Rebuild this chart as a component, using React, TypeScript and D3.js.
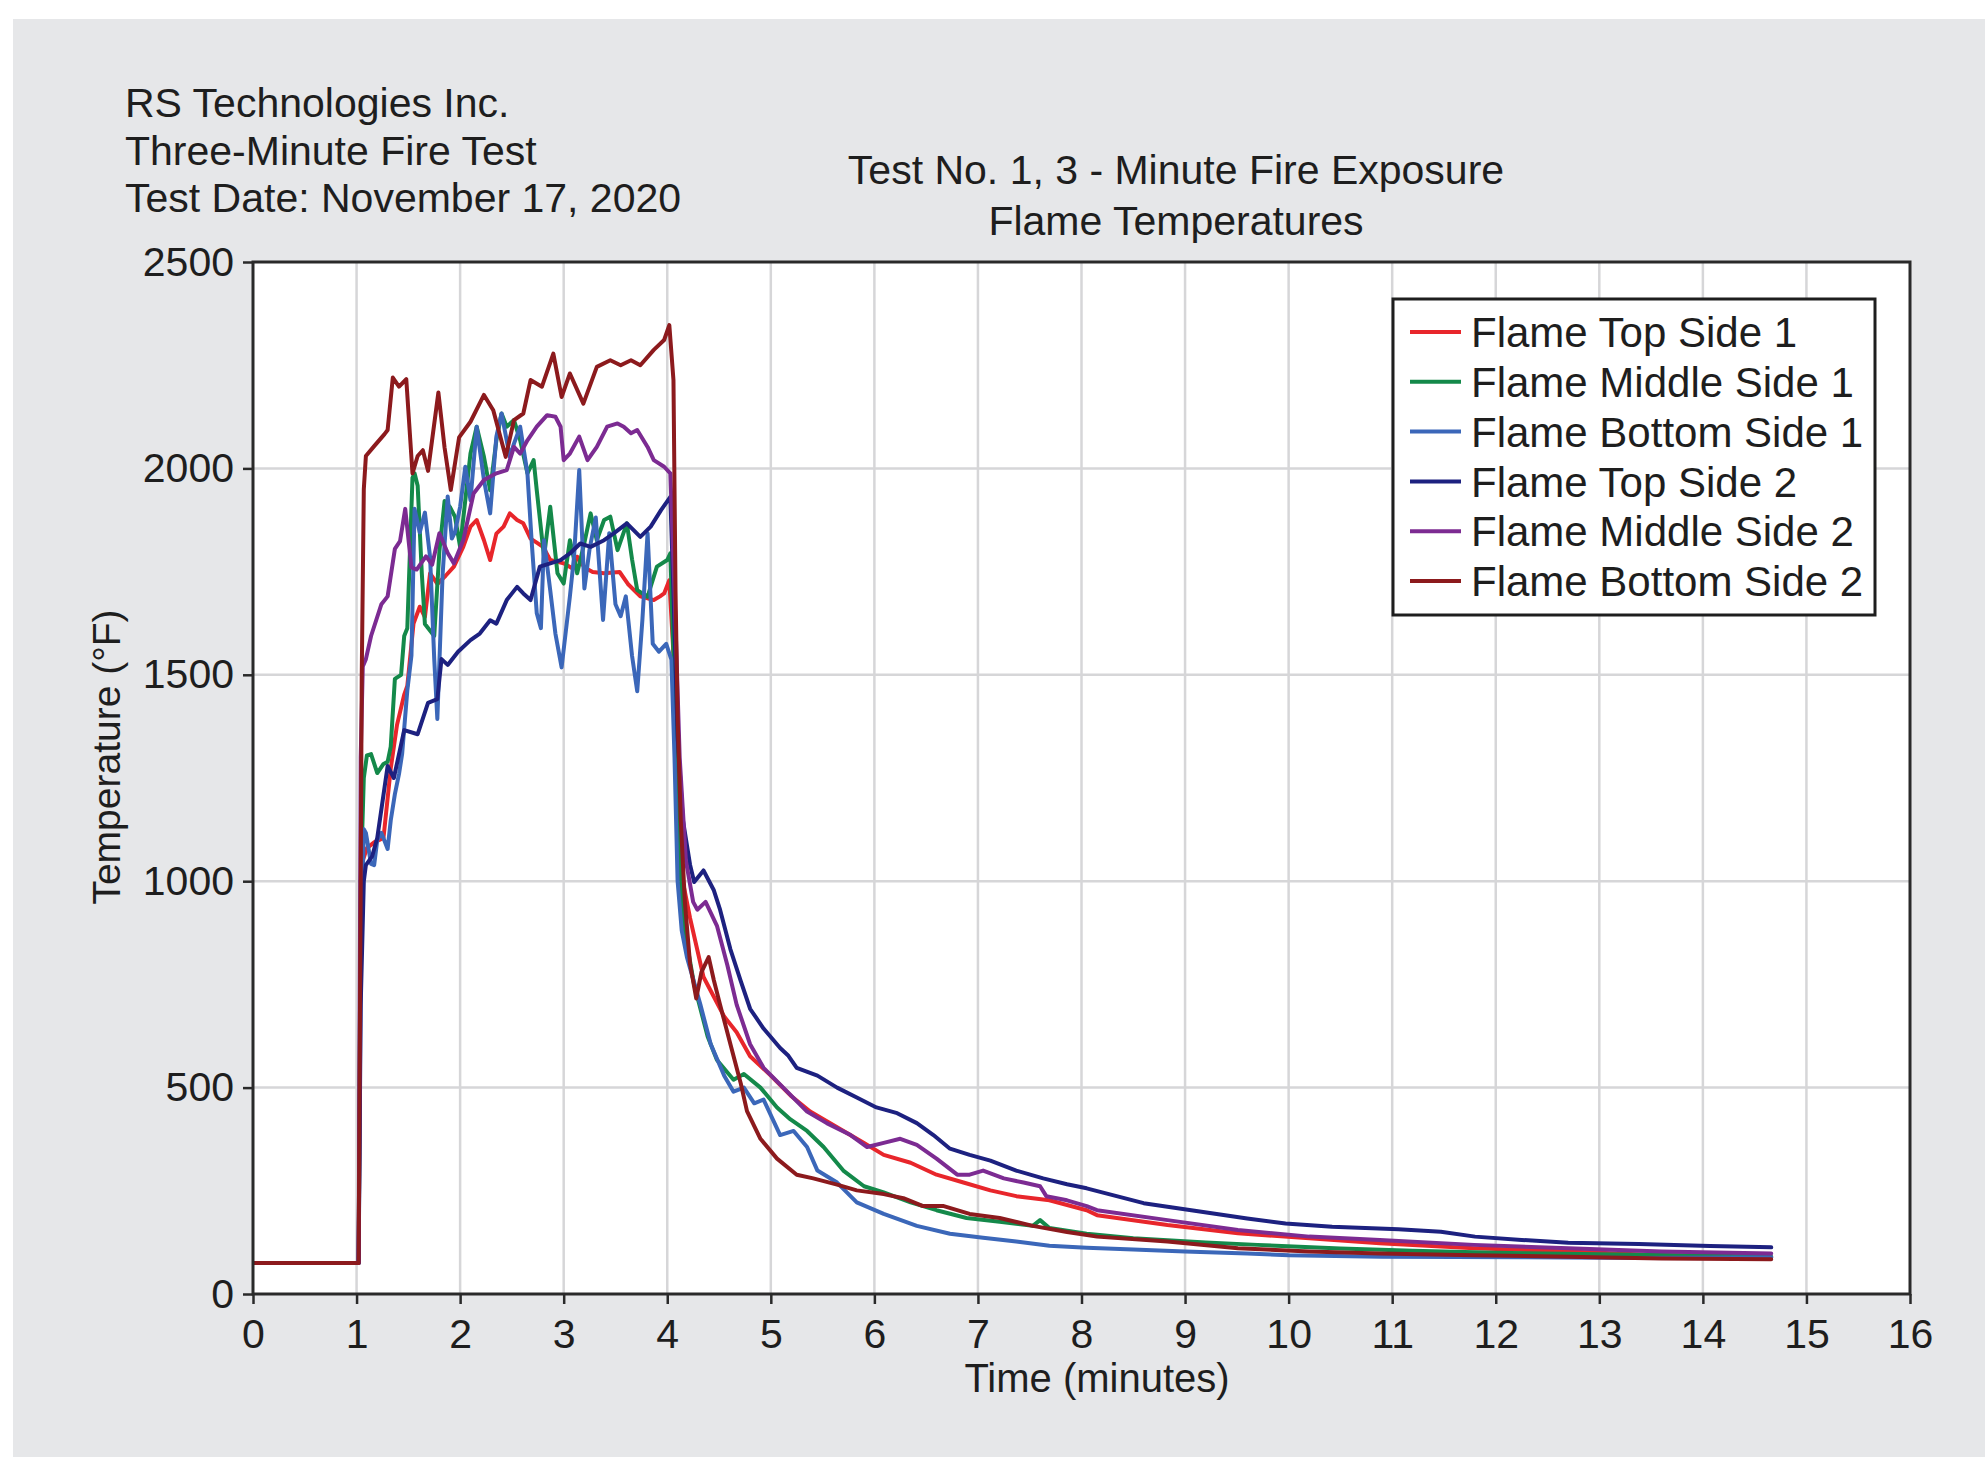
import React, { useEffect, useRef } from 'react';
import * as d3 from 'd3';

// axis ticks
const minuteTicks = [0, 1, 2, 3, 4, 5, 6, 7, 8, 9, 10, 11, 12, 13, 14, 15, 16];
const tempTicks = [0, 500, 1000, 1500, 2000, 2500];

const seriesNames = [
  'Flame Top Side 1',
  'Flame Middle Side 1',
  'Flame Bottom Side 1',
  'Flame Top Side 2',
  'Flame Middle Side 2',
  'Flame Bottom Side 2'
];
const seriesColors = ['#e8262b', '#14894a', '#3b67b9', '#1d2180', '#7c2b92', '#8c1a1d'];

// [minutes, °F]
const topSide1 = [
  [0, 75], [1.02, 75], [1.04, 900], [1.06, 1050], [1.1, 1080], [1.17, 1094], [1.26, 1105], [1.33, 1273],
  [1.39, 1378], [1.46, 1452], [1.49, 1473], [1.55, 1624], [1.61, 1665], [1.66, 1640], [1.71, 1746],
  [1.78, 1720], [1.86, 1740], [1.94, 1762], [2.03, 1810], [2.1, 1859], [2.16, 1875], [2.23, 1826],
  [2.29, 1778], [2.35, 1842], [2.42, 1859], [2.48, 1891], [2.55, 1875], [2.61, 1867], [2.68, 1830],
  [2.74, 1820], [2.8, 1810], [2.87, 1778], [3.0, 1770], [3.09, 1757], [3.13, 1786], [3.2, 1760],
  [3.28, 1749], [3.39, 1746], [3.54, 1749], [3.62, 1720], [3.74, 1690], [3.87, 1681], [3.93, 1690],
  [3.97, 1697], [4.02, 1729], [4.06, 1550], [4.1, 1250], [4.15, 1000], [4.22, 911], [4.35, 768],
  [4.45, 720], [4.55, 672], [4.67, 634], [4.8, 576], [5.0, 529], [5.19, 481], [5.38, 442], [5.64, 404],
  [5.9, 366], [6.09, 337], [6.35, 318], [6.6, 289], [6.86, 270], [7.12, 251], [7.37, 237], [7.69, 227],
  [8.05, 203], [8.15, 191], [8.83, 167], [9.51, 147], [10.2, 135], [10.88, 123], [11.79, 111],
  [12.7, 103], [13.6, 94], [14.66, 89]
];

const middleSide1 = [
  [0, 75], [1.02, 75], [1.04, 1000], [1.07, 1250], [1.1, 1305], [1.14, 1308], [1.2, 1262], [1.26, 1284],
  [1.3, 1289], [1.33, 1326], [1.37, 1490], [1.43, 1500], [1.46, 1594], [1.49, 1613], [1.54, 1977],
  [1.56, 1988], [1.59, 1958], [1.63, 1746], [1.66, 1623], [1.75, 1594], [1.8, 1800], [1.85, 1921],
  [1.9, 1907], [1.95, 1883], [2.0, 1810], [2.1, 2036], [2.16, 2101], [2.23, 2028], [2.29, 1947],
  [2.35, 2068], [2.4, 2133], [2.45, 2101], [2.52, 2117], [2.58, 2068], [2.65, 1988], [2.71, 2020],
  [2.74, 1947], [2.81, 1786], [2.87, 1907], [2.94, 1746], [3.0, 1721], [3.06, 1826], [3.13, 1746],
  [3.2, 1820], [3.26, 1891], [3.32, 1826], [3.39, 1875], [3.45, 1883], [3.52, 1802], [3.61, 1867],
  [3.66, 1780], [3.71, 1705], [3.81, 1689], [3.9, 1762], [4.0, 1778], [4.03, 1794], [4.06, 1550],
  [4.1, 1200], [4.13, 1000], [4.16, 892], [4.26, 749], [4.39, 624], [4.48, 567], [4.64, 519],
  [4.74, 533], [4.9, 500], [5.06, 452], [5.19, 423], [5.35, 395], [5.51, 356], [5.7, 299], [5.9, 261],
  [6.09, 246], [6.35, 222], [6.6, 203], [6.89, 184], [7.21, 175], [7.53, 165], [7.6, 179], [7.69, 160],
  [8.05, 146], [8.5, 135], [9.2, 125], [9.7, 119], [10.5, 110], [11.2, 105], [12.0, 100], [13.0, 96],
  [14.0, 93], [14.66, 90]
];

const bottomSide1 = [
  [0, 75], [1.02, 75], [1.04, 800], [1.07, 1126], [1.09, 1117], [1.14, 1042], [1.17, 1039], [1.2, 1100],
  [1.24, 1117], [1.3, 1078], [1.33, 1147], [1.37, 1211], [1.41, 1260], [1.44, 1308], [1.49, 1462],
  [1.53, 1547], [1.56, 1902], [1.61, 1845], [1.66, 1893], [1.71, 1785], [1.75, 1538], [1.78, 1393],
  [1.83, 1739], [1.88, 1932], [1.92, 1830], [1.95, 1845], [2.0, 1907], [2.05, 2004], [2.1, 1923],
  [2.16, 2101], [2.23, 1972], [2.29, 1891], [2.35, 2077], [2.4, 2133], [2.48, 2028], [2.52, 2060],
  [2.58, 2101], [2.65, 1988], [2.69, 1826], [2.74, 1649], [2.78, 1613], [2.81, 1826], [2.87, 1705],
  [2.92, 1600], [2.98, 1518], [3.06, 1690], [3.1, 1786], [3.15, 1996], [3.2, 1709], [3.25, 1805],
  [3.31, 1881], [3.38, 1633], [3.44, 1843], [3.5, 1671], [3.55, 1642], [3.6, 1690], [3.66, 1546],
  [3.71, 1460], [3.76, 1633], [3.81, 1843], [3.86, 1575], [3.92, 1556], [3.99, 1575], [4.04, 1537],
  [4.07, 1300], [4.1, 1000], [4.14, 880], [4.19, 816], [4.32, 701], [4.42, 605], [4.55, 529],
  [4.64, 490], [4.74, 500], [4.84, 462], [4.93, 471], [5.09, 385], [5.22, 395], [5.35, 356],
  [5.45, 299], [5.64, 270], [5.83, 222], [6.09, 194], [6.41, 165], [6.73, 146], [7.05, 136],
  [7.37, 127], [7.69, 117], [8.05, 112], [8.5, 108], [9.0, 103], [9.6, 98], [10.0, 94], [10.9, 90],
  [12.3, 89], [13.4, 87], [14.66, 89]
];

const topSide2 = [
  [0, 75], [1.02, 75], [1.04, 700], [1.07, 1000], [1.09, 1039], [1.15, 1060], [1.2, 1105], [1.3, 1279],
  [1.36, 1250], [1.46, 1366], [1.59, 1356], [1.69, 1432], [1.78, 1441], [1.82, 1538], [1.88, 1524],
  [1.98, 1556], [2.1, 1584], [2.19, 1600], [2.29, 1632], [2.35, 1624], [2.45, 1681], [2.55, 1713],
  [2.61, 1697], [2.68, 1681], [2.77, 1762], [2.87, 1770], [2.97, 1778], [3.06, 1794], [3.16, 1818],
  [3.26, 1810], [3.39, 1826], [3.48, 1842], [3.61, 1867], [3.74, 1834], [3.84, 1859], [3.94, 1899],
  [4.03, 1931], [4.06, 1700], [4.1, 1350], [4.15, 1150], [4.22, 1040], [4.26, 998], [4.35, 1026],
  [4.45, 978], [4.51, 931], [4.61, 835], [4.71, 758], [4.8, 691], [4.93, 643], [5.09, 596], [5.17, 577],
  [5.25, 548], [5.45, 529], [5.64, 500], [5.83, 476], [6.02, 452], [6.22, 438], [6.41, 414], [6.57, 385],
  [6.73, 352], [6.92, 337], [7.12, 323], [7.37, 299], [7.63, 280], [7.86, 266], [8.05, 256], [8.6, 220],
  [9.06, 203], [9.6, 183], [9.97, 171], [10.42, 163], [11.06, 157], [11.47, 151], [11.8, 139],
  [12.25, 131], [12.7, 124], [13.38, 121], [14.07, 116], [14.66, 113]
];

const middleSide2 = [
  [0, 75], [1.02, 75], [1.04, 1300], [1.06, 1520], [1.09, 1538], [1.14, 1594], [1.24, 1671], [1.3, 1690],
  [1.37, 1805], [1.42, 1824], [1.47, 1902], [1.53, 1760], [1.58, 1755], [1.67, 1787], [1.73, 1767],
  [1.8, 1843], [1.88, 1795], [1.94, 1770], [2.03, 1826], [2.13, 1939], [2.23, 1972], [2.35, 1988],
  [2.45, 1996], [2.52, 2052], [2.58, 2036], [2.65, 2068], [2.74, 2101], [2.84, 2129], [2.92, 2125],
  [2.97, 2101], [3.0, 2020], [3.06, 2036], [3.15, 2077], [3.23, 2020], [3.32, 2052], [3.42, 2101],
  [3.52, 2109], [3.58, 2101], [3.65, 2085], [3.71, 2093], [3.81, 2052], [3.87, 2020], [3.97, 2004],
  [4.03, 1988], [4.07, 1700], [4.12, 1300], [4.18, 1050], [4.25, 950], [4.29, 931], [4.37, 950],
  [4.48, 892], [4.58, 797], [4.67, 701], [4.8, 605], [4.93, 548], [5.12, 500], [5.35, 442], [5.54, 414],
  [5.77, 385], [5.93, 356], [6.09, 366], [6.25, 376], [6.41, 361], [6.6, 328], [6.8, 289], [6.92, 289],
  [7.05, 299], [7.25, 280], [7.44, 270], [7.6, 261], [7.66, 237], [7.86, 227], [8.05, 213], [8.15, 203],
  [8.83, 179], [9.51, 155], [10.2, 139], [10.88, 131], [11.79, 119], [12.7, 111], [13.6, 103],
  [14.66, 98]
];

const bottomSide2 = [
  [0, 75], [1.02, 75], [1.04, 1000], [1.05, 1500], [1.07, 1950], [1.09, 2030], [1.17, 2054], [1.27, 2083],
  [1.3, 2093], [1.35, 2220], [1.41, 2198], [1.48, 2216], [1.54, 1988], [1.59, 2030], [1.64, 2044],
  [1.69, 1994], [1.79, 2184], [1.85, 2050], [1.91, 1948], [1.99, 2075], [2.1, 2113], [2.23, 2178],
  [2.32, 2141], [2.44, 2028], [2.52, 2117], [2.61, 2133], [2.68, 2214], [2.79, 2198], [2.9, 2278],
  [2.98, 2173], [3.06, 2230], [3.19, 2157], [3.32, 2246], [3.45, 2262], [3.55, 2250], [3.65, 2262],
  [3.74, 2250], [3.87, 2287], [3.97, 2311], [4.02, 2347], [4.06, 2214], [4.08, 1700], [4.1, 1400],
  [4.13, 1150], [4.17, 950], [4.22, 800], [4.28, 716], [4.33, 780], [4.4, 816], [4.45, 760],
  [4.51, 701], [4.61, 605], [4.71, 510], [4.77, 443], [4.9, 376], [5.06, 328], [5.25, 289], [5.41, 280],
  [5.64, 265], [5.83, 251], [6.09, 242], [6.28, 232], [6.47, 213], [6.67, 213], [6.92, 194], [7.21, 184],
  [7.53, 165], [7.86, 150], [8.15, 139], [8.83, 127], [9.51, 111], [10.2, 103], [10.88, 98],
  [11.79, 94], [12.7, 90], [13.6, 86], [14.66, 84]
];

const seriesData = [topSide1, middleSide1, bottomSide1, topSide2, middleSide2, bottomSide2];

const headerLines = ['RS Technologies Inc.', 'Three-Minute Fire Test', 'Test Date: November 17, 2020'];
const titleLines = ['Test No. 1, 3 - Minute Fire Exposure', 'Flame Temperatures'];

const FONT = '"Liberation Sans", Arial, Helvetica, sans-serif';

const FlameChart = () => {
  const svgRef = useRef<SVGSVGElement>(null);

  useEffect(() => {
    const svg = d3.select(svgRef.current);
    svg.selectAll('*').remove();

    const W = 1985;
    const H = 1457;
    const plot = { left: 253, top: 262, right: 1910, bottom: 1294 };

    const x = d3.scaleLinear().domain([0, 16]).range([plot.left, plot.right]);
    const y = d3.scaleLinear().domain([0, 2500]).range([plot.bottom, plot.top]);

    // page + gray panel
    svg.append('rect').attr('width', W).attr('height', H).attr('fill', '#ffffff');
    svg.append('rect')
      .attr('x', 13).attr('y', 19)
      .attr('width', W - 13).attr('height', H - 19)
      .attr('fill', '#e6e7e9');

    // plot background
    svg.append('rect')
      .attr('x', plot.left).attr('y', plot.top)
      .attr('width', plot.right - plot.left).attr('height', plot.bottom - plot.top)
      .attr('fill', '#ffffff');

    // grid
    const grid = svg.append('g').attr('stroke', '#d6d6d8').attr('stroke-width', 2.5);
    grid.selectAll('.vx')
      .data(minuteTicks.slice(1, -1))
      .enter().append('line')
      .attr('x1', d => x(d)).attr('x2', d => x(d))
      .attr('y1', plot.top).attr('y2', plot.bottom);
    grid.selectAll('.hy')
      .data(tempTicks.slice(1, -1))
      .enter().append('line')
      .attr('x1', plot.left).attr('x2', plot.right)
      .attr('y1', d => y(d)).attr('y2', d => y(d));

    // lines
    svg.append('clipPath').attr('id', 'plot-clip')
      .append('rect')
      .attr('x', plot.left).attr('y', plot.top)
      .attr('width', plot.right - plot.left).attr('height', plot.bottom - plot.top);

    const line = d3.line<number[]>()
      .x(d => x(d[0]))
      .y(d => y(d[1]));

    svg.append('g').attr('clip-path', 'url(#plot-clip)')
      .selectAll('path')
      .data(seriesData)
      .enter().append('path')
      .attr('d', d => line(d))
      .attr('fill', 'none')
      .attr('stroke', (d, i) => seriesColors[i])
      .attr('stroke-width', 4)
      .attr('stroke-linejoin', 'round')
      .attr('stroke-linecap', 'round');

    // frame
    svg.append('rect')
      .attr('x', plot.left).attr('y', plot.top)
      .attr('width', plot.right - plot.left).attr('height', plot.bottom - plot.top)
      .attr('fill', 'none')
      .attr('stroke', '#2a2a2a')
      .attr('stroke-width', 3);

    // axes
    const xAxis = svg.append('g')
      .attr('transform', `translate(0,${plot.bottom})`)
      .call(d3.axisBottom(x).tickValues(minuteTicks).tickFormat(d3.format('d')).tickSize(10).tickPadding(15));
    const yAxis = svg.append('g')
      .attr('transform', `translate(${plot.left},0)`)
      .call(d3.axisLeft(y).tickValues(tempTicks).tickFormat(d3.format('d')).tickSize(10).tickPadding(9));

    [xAxis, yAxis].forEach(a => {
      a.select('.domain').remove();
      a.selectAll('line').attr('stroke', '#2a2a2a').attr('stroke-width', 2.5);
      a.selectAll('text')
        .style('font-family', FONT)
        .style('font-size', '41px')
        .style('fill', '#1e1e1e');
    });

    // axis titles
    svg.append('text')
      .attr('x', 1097).attr('y', 1392)
      .attr('text-anchor', 'middle')
      .style('font-family', FONT).style('font-size', '40px').style('fill', '#1e1e1e')
      .text('Time (minutes)');

    svg.append('text')
      .attr('transform', 'translate(120,757) rotate(-90)')
      .attr('text-anchor', 'middle')
      .style('font-family', FONT).style('font-size', '39px').style('fill', '#1e1e1e')
      .text('Temperature (°F)');

    // header block
    svg.selectAll('.hdr')
      .data(headerLines)
      .enter().append('text')
      .attr('x', 125)
      .attr('y', (d, i) => 117 + i * 47.5)
      .style('font-family', FONT).style('font-size', '41px').style('fill', '#1e1e1e')
      .text(d => d);

    // chart title
    svg.selectAll('.ttl')
      .data(titleLines)
      .enter().append('text')
      .attr('x', 1176)
      .attr('y', (d, i) => 184 + i * 51)
      .attr('text-anchor', 'middle')
      .style('font-family', FONT).style('font-size', '41px').style('fill', '#1e1e1e')
      .text(d => d);

    // legend
    const lg = svg.append('g');
    lg.append('rect')
      .attr('x', 1393).attr('y', 299)
      .attr('width', 482).attr('height', 316)
      .attr('fill', '#ffffff')
      .attr('stroke', '#1e1e1e')
      .attr('stroke-width', 3);

    const items = lg.selectAll('.item')
      .data(seriesNames)
      .enter().append('g')
      .attr('transform', (d, i) => `translate(0,${332 + i * 49.8})`);
    items.append('line')
      .attr('x1', 1410).attr('x2', 1461)
      .attr('stroke', (d, i) => seriesColors[i])
      .attr('stroke-width', 4);
    items.append('text')
      .attr('x', 1471)
      .attr('dy', '0.36em')
      .style('font-family', FONT).style('font-size', '42px').style('fill', '#1e1e1e')
      .text(d => d);
  }, []);

  return (
    <svg
      ref={svgRef}
      width={1985}
      height={1457}
      style={{ position: 'absolute', left: 0, top: 0, display: 'block' }}
    />
  );
};

export default function App() {
  return <FlameChart />;
}
